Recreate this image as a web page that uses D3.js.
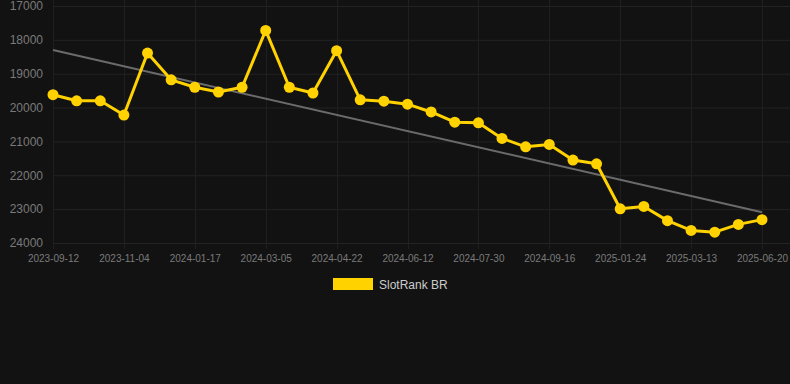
<!DOCTYPE html>
<html>
<head>
<meta charset="utf-8">
<script src="https://cdn.jsdelivr.net/npm/d3@7"></script>
<style>
  body { margin: 0; background: #121212; }
  svg { display: block; }
</style>
</head>
<body>
<div id="chart"></div>
<script>
// Chart data (rank, lower is better so the axis is flipped)
const dates = [
  "2023-09-12", "2023-09-29", "2023-10-17", "2023-11-04", "2023-11-29", "2023-12-23",
  "2024-01-17", "2024-02-02", "2024-02-18", "2024-03-05", "2024-03-21", "2024-04-06",
  "2024-04-22", "2024-05-09", "2024-05-26", "2024-06-12", "2024-06-28", "2024-07-14",
  "2024-07-30", "2024-08-15", "2024-08-31", "2024-09-16", "2024-10-28", "2024-12-10",
  "2025-01-24", "2025-02-09", "2025-02-25", "2025-03-13", "2025-04-15", "2025-05-18",
  "2025-06-20"
];
const rankValues = [
  19620, 19800, 19800, 20220, 18390, 19180,
  19400, 19540, 19400, 17720, 19400, 19570,
  18320, 19770, 19810, 19900, 20130, 20430,
  20450, 20910, 21160, 21090, 21550, 21660,
  22990, 22920, 23340, 23630, 23680, 23450,
  23310
];
const trendValues = [18300, 23090];   // first and last point of the trend line
const yTicks = [17000, 18000, 19000, 20000, 21000, 22000, 23000, 24000];
const seriesName = "SlotRank BR";

const width = 790;
const height = 384;
const margin = {top: 6, left: 53, right: 28, bottom: 141};

const svg = d3.select("#chart")
  .append("svg")
  .attr("width", width)
  .attr("height", height);

svg.append("rect")
  .attr("width", width)
  .attr("height", height)
  .attr("fill", "#121212");

const xScale = d3.scalePoint()
  .domain(dates)
  .range([margin.left, width - margin.right]);

const yScale = d3.scaleLinear()
  .domain([17000, 24000])
  .range([margin.top, height - margin.bottom]);

// every third date gets a label and a vertical grid line
const xTickDates = dates.filter((d, i) => i % 3 === 0);

// horizontal grid
svg.append("g")
  .selectAll("line")
  .data(yTicks)
  .join("line")
  .attr("x1", margin.left)
  .attr("x2", width)
  .attr("y1", d => yScale(d) + 0.5)
  .attr("y2", d => yScale(d) + 0.5)
  .attr("stroke", "#232323")
  .attr("stroke-width", 1);

// vertical grid
svg.append("g")
  .selectAll("line")
  .data(xTickDates)
  .join("line")
  .attr("x1", d => Math.round(xScale(d)) + 0.5)
  .attr("x2", d => Math.round(xScale(d)) + 0.5)
  .attr("y1", 0)
  .attr("y2", yScale(24000) + 6)
  .attr("stroke", "#1f1f1f")
  .attr("stroke-width", 1);

// y axis labels
const yAxis = d3.axisLeft(yScale)
  .tickValues(yTicks)
  .tickFormat(d3.format("d"))
  .tickSize(0)
  .tickPadding(10);

svg.append("g")
  .attr("transform", `translate(${margin.left},0)`)
  .call(yAxis)
  .call(g => g.select(".domain").remove())
  .selectAll("text")
  .attr("fill", "#7a7a7a")
  .attr("font-family", "Liberation Sans, Arial, sans-serif")
  .attr("font-size", 12);

// x axis labels
const xAxis = d3.axisBottom(xScale)
  .tickValues(xTickDates)
  .tickSize(0)
  .tickPadding(12);

svg.append("g")
  .attr("transform", `translate(0,${yScale(24000)})`)
  .call(xAxis)
  .call(g => g.select(".domain").remove())
  .selectAll("text")
  .attr("fill", "#7a7a7a")
  .attr("font-family", "Liberation Sans, Arial, sans-serif")
  .attr("font-size", 10);

// trend line
svg.append("line")
  .attr("x1", xScale(dates[0]))
  .attr("x2", xScale(dates[dates.length - 1]))
  .attr("y1", yScale(trendValues[0]))
  .attr("y2", yScale(trendValues[1]))
  .attr("stroke", "#6b6b6b")
  .attr("stroke-width", 2);

// rank line
const line = d3.line()
  .x((d, i) => xScale(dates[i]))
  .y(d => yScale(d));

svg.append("path")
  .datum(rankValues)
  .attr("d", line)
  .attr("fill", "none")
  .attr("stroke", "#ffd200")
  .attr("stroke-width", 3)
  .attr("stroke-linejoin", "round");

svg.append("g")
  .selectAll("circle")
  .data(rankValues)
  .join("circle")
  .attr("cx", (d, i) => xScale(dates[i]))
  .attr("cy", d => yScale(d))
  .attr("r", 5.5)
  .attr("fill", "#ffd200");

// legend
svg.append("rect")
  .attr("x", 333)
  .attr("y", 278)
  .attr("width", 40)
  .attr("height", 12)
  .attr("fill", "#ffd200");

svg.append("text")
  .attr("x", 379)
  .attr("y", 289)
  .text(seriesName)
  .attr("fill", "#cccccc")
  .attr("font-family", "Liberation Sans, Arial, sans-serif")
  .attr("font-size", 12);
</script>
</body>
</html>
